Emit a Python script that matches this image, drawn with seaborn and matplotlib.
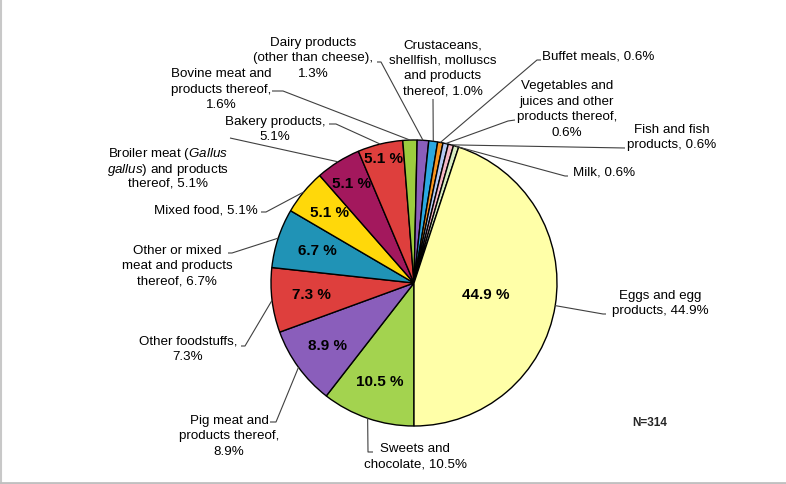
#%%
# pie chart of food vehicles, N=314
import numpy as np
import matplotlib
matplotlib.use("Agg")
import matplotlib.pyplot as plt
import seaborn as sns

#%%
# data (clockwise from 6 o'clock)
categories = ["Sweets and chocolate", "Pig meat and products thereof", "Other foodstuffs",
              "Other or mixed meat and products thereof", "Mixed food",
              "Broiler meat (Gallus gallus) and products thereof", "Bakery products",
              "Bovine meat and products thereof", "Dairy products (other than cheese)",
              "Crustaceans, shellfish, molluscs and products thereof", "Buffet meals",
              "Vegetables and juices and other products thereof", "Fish and fish products",
              "Milk", "Eggs and egg products"]
values = [10.5, 8.9, 7.3, 6.7, 5.1, 5.1, 5.1, 1.6, 1.3, 1.0, 0.6, 0.6, 0.6, 0.6, 44.9]
colors = ["#A3D34F", "#8A5EBB", "#DE3F3D", "#2093B6", "#FFD80A", "#A3185D", "#DE3F3D",
          "#9CCC3E", "#8A5EBB", "#2BA8E0", "#F7941F", "#B3C9F2", "#F5B8C6", "#D9EDC0", "#FFFFA8"]
# wrapped label text (value appended below)
label_lines = ["Sweets and\nchocolate,", "Pig meat and\nproducts thereof,\n", "Other foodstuffs,\n",
               "Other or mixed\nmeat and products\nthereof,", "Mixed food,",
               "Broiler meat ($\\mathit{Gallus}$\n$\\mathit{gallus}$) and products\nthereof,",
               "Bakery products,\n", "Bovine meat and\nproducts thereof,\n",
               "Dairy products\n(other than cheese),\n", "Crustaceans,\nshellfish, molluscs\nand products\nthereof,",
               "Buffet meals,", "Vegetables and\njuices and other\nproducts thereof,\n",
               "Fish and fish\nproducts,", "Milk,", "Eggs and egg\nproducts,"]
n_total = 314

#%%
# layout in pixel units (y measured from top)
W, H = 786, 484
cx, cy, R = 414, 283, 143
# label centres and leader anchor points
label_pos = [(415, 455), (229, 435), (188, 348), (177, 265), (206, 209), (168, 167), (275, 128),
             (221, 88), (313, 57), (443, 67), (598, 55), (567, 108), (672, 136), (604, 171), (660, 302)]
leader_pts = [[(373, 452), (368, 452)], [(270, 422), (276, 422)], [(241, 346), (245, 346)],
              [(228, 253), (232, 253)], [(261, 212), (266, 212)], [(230, 138)], [(329, 124), (336, 124)],
              [(272, 91), (283, 91)], [(377, 62), (381, 62)], [(433, 99)], [(541, 60), (537, 60)],
              [(515, 120), (508, 121)], [(625, 148)], [(568, 176), (565, 176)], [(606, 314), (603, 314)]]
inner_r = {0: 0.73, 1: 0.75, 2: 0.72, 3: 0.71, 4: 0.77, 5: 0.82, 6: 0.89, 14: 0.51}
line_gap = 15.5

def fy(y):
    return H - y

#%%
sns.set_theme(style="white")
plt.rcParams['font.family'] = ['Liberation Sans', 'DejaVu Sans']
plt.rcParams['mathtext.fontset'] = 'custom'
plt.rcParams['mathtext.rm'] = 'Liberation Sans'
plt.rcParams['mathtext.it'] = 'Liberation Sans:italic'

fig = plt.figure(figsize=(W / 100, H / 100), dpi=100)
ax = fig.add_axes([0, 0, 1, 1])
ax.set_xlim(0, W)
ax.set_ylim(0, H)
ax.axis('off')

wedges, _ = ax.pie(values, colors=colors, startangle=-90, counterclock=False,
                   center=(cx, fy(cy)), radius=R,
                   wedgeprops=dict(edgecolor='black', linewidth=1.0))
ax.set_xlim(0, W)
ax.set_ylim(0, H)
ax.set_aspect('equal')

for i, w in enumerate(wedges):
    th = np.deg2rad((w.theta1 + w.theta2) / 2)
    # inside percentage
    if i in inner_r:
        r = inner_r[i] * R
        ax.text(cx + r * np.cos(th), fy(cy) + r * np.sin(th), f"{values[i]} %",
                ha='center', va='center', fontsize=11, fontweight='bold', color='black')
    # outside label, one text per line so mixed italic lines keep even spacing
    tx, ty = label_pos[i]
    sep = "" if label_lines[i].endswith("\n") else " "
    lines = f"{label_lines[i]}{sep}{values[i]}%".split("\n")
    y0 = ty - (len(lines) - 1) * line_gap / 2
    for k, line in enumerate(lines):
        ax.text(tx, fy(y0 + k * line_gap), line, ha='center', va='center_baseline',
                fontsize=9.6, color='black')
    ex, ey = cx + R * np.cos(th), fy(cy) + R * np.sin(th)
    xs = [p[0] for p in leader_pts[i]] + [ex]
    ys = [fy(p[1]) for p in leader_pts[i]] + [ey]
    ax.plot(xs, ys, color='#404040', lw=0.8, solid_capstyle='butt')

ax.text(650, fy(423), f"N={n_total}", ha='center', va='center', fontsize=8.5, fontweight='bold')

# light frame on left and bottom
fig.add_artist(plt.Line2D([0.0015, 0.0015], [0, 1], transform=fig.transFigure, color='#C8C8C8', lw=1.5))
fig.add_artist(plt.Line2D([0, 1], [0.003, 0.003], transform=fig.transFigure, color='#C0C0C0', lw=2))

fig.savefig("out.png", dpi=100, facecolor='white')
